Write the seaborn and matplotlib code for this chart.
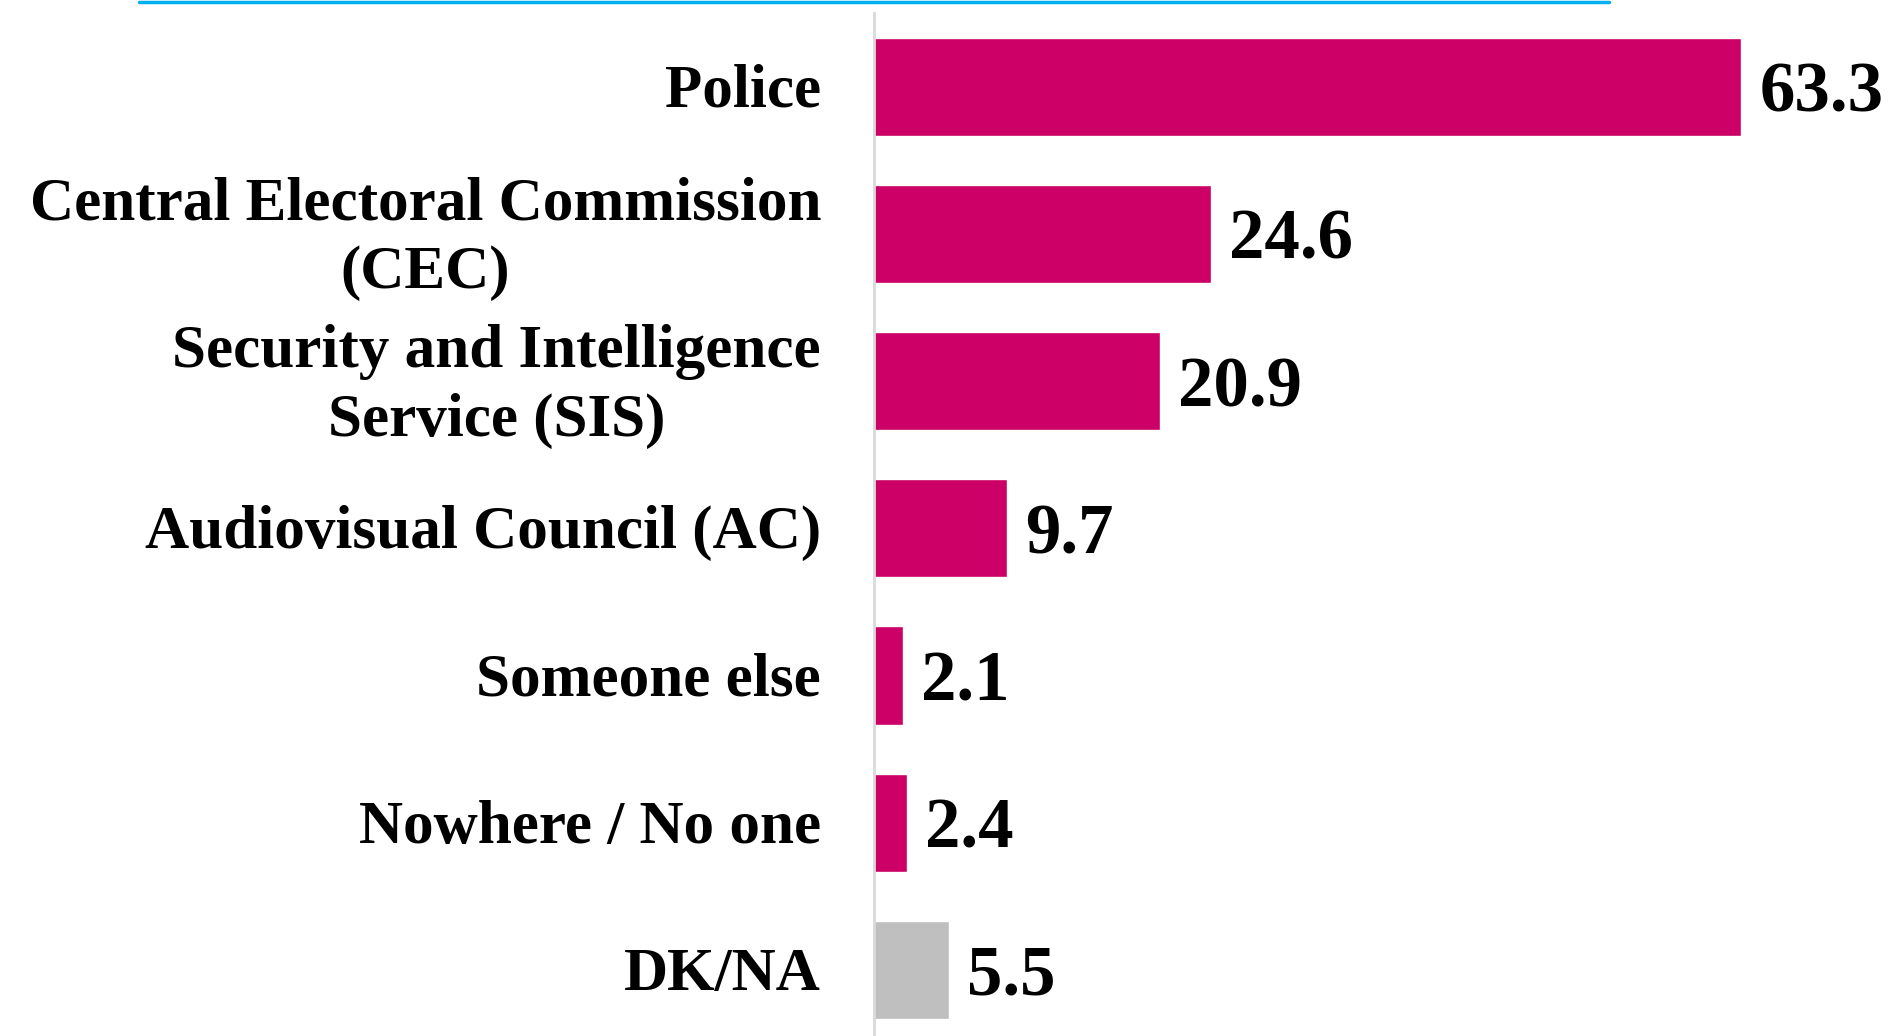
import pandas as pd
import matplotlib.pyplot as plt
import seaborn as sns

# data
categories = [
    "Police",
    "Central Electoral Commission\n(CEC)",
    "Security and Intelligence\nService (SIS)",
    "Audiovisual Council (AC)",
    "Someone else",
    "Nowhere / No one",
    "DK/NA",
]
values = [63.3, 24.6, 20.9, 9.7, 2.1, 2.4, 5.5]
bar_colors = ["#CC0066"] * 6 + ["#BFBFBF"]

df = pd.DataFrame({"category": categories, "value": values})

sns.set_style("white")
plt.rcParams["font.family"] = ["Liberation Serif", "DejaVu Serif"]
plt.rcParams["text.color"] = "black"

W, H = 1894, 1036
fig = plt.figure(figsize=(W / 100, H / 100), dpi=100)
# axes placed in pixel terms: left edge at the vertical axis line
ax_left, ax_top, ax_bottom = 874, 13, 1043.5
ax = fig.add_axes([ax_left / W, (H - ax_bottom) / H,
                   (W - ax_left) / W, (ax_bottom - ax_top) / H])

sns.barplot(data=df, x="value", y="category", hue="category",
            palette=bar_colors, orient="h", width=0.667,
            legend=False, ax=ax, saturation=1)

ax.set_xlim(0, 74.45)
ax.set_ylim(6.5, -0.5)
ax.set_xlabel("")
ax.set_ylabel("")
ax.set_xticks([])
ax.set_yticklabels([])
ax.tick_params(axis="y", length=0)

for s in ["top", "right", "bottom"]:
    ax.spines[s].set_visible(False)
ax.spines["left"].set_color("#D9D9D9")
ax.spines["left"].set_linewidth(2)

# category labels, drawn by hand so two-line ones sit centred on the bar
for i, cat in enumerate(categories):
    ax.annotate(cat, xy=(0, i), xytext=(-53, -5), textcoords="offset pixels",
                ha="right", va="center", multialignment="center",
                linespacing=1.3, fontsize=44, fontweight="bold",
                color="black", annotation_clip=False)

for i, v in enumerate(values):
    ax.annotate(f"{v}", xy=(v, i), xytext=(18, 0), textcoords="offset pixels",
                ha="left", va="center_baseline", fontsize=51,
                fontweight="bold", color="black")

# cyan rule at the top of the figure
fig.add_artist(plt.Line2D([139 / W, 1609 / W], [1 - 1.5 / H, 1 - 1.5 / H],
                          color="#00B0F0", linewidth=2.5))

fig.savefig("out.png", dpi=100)
